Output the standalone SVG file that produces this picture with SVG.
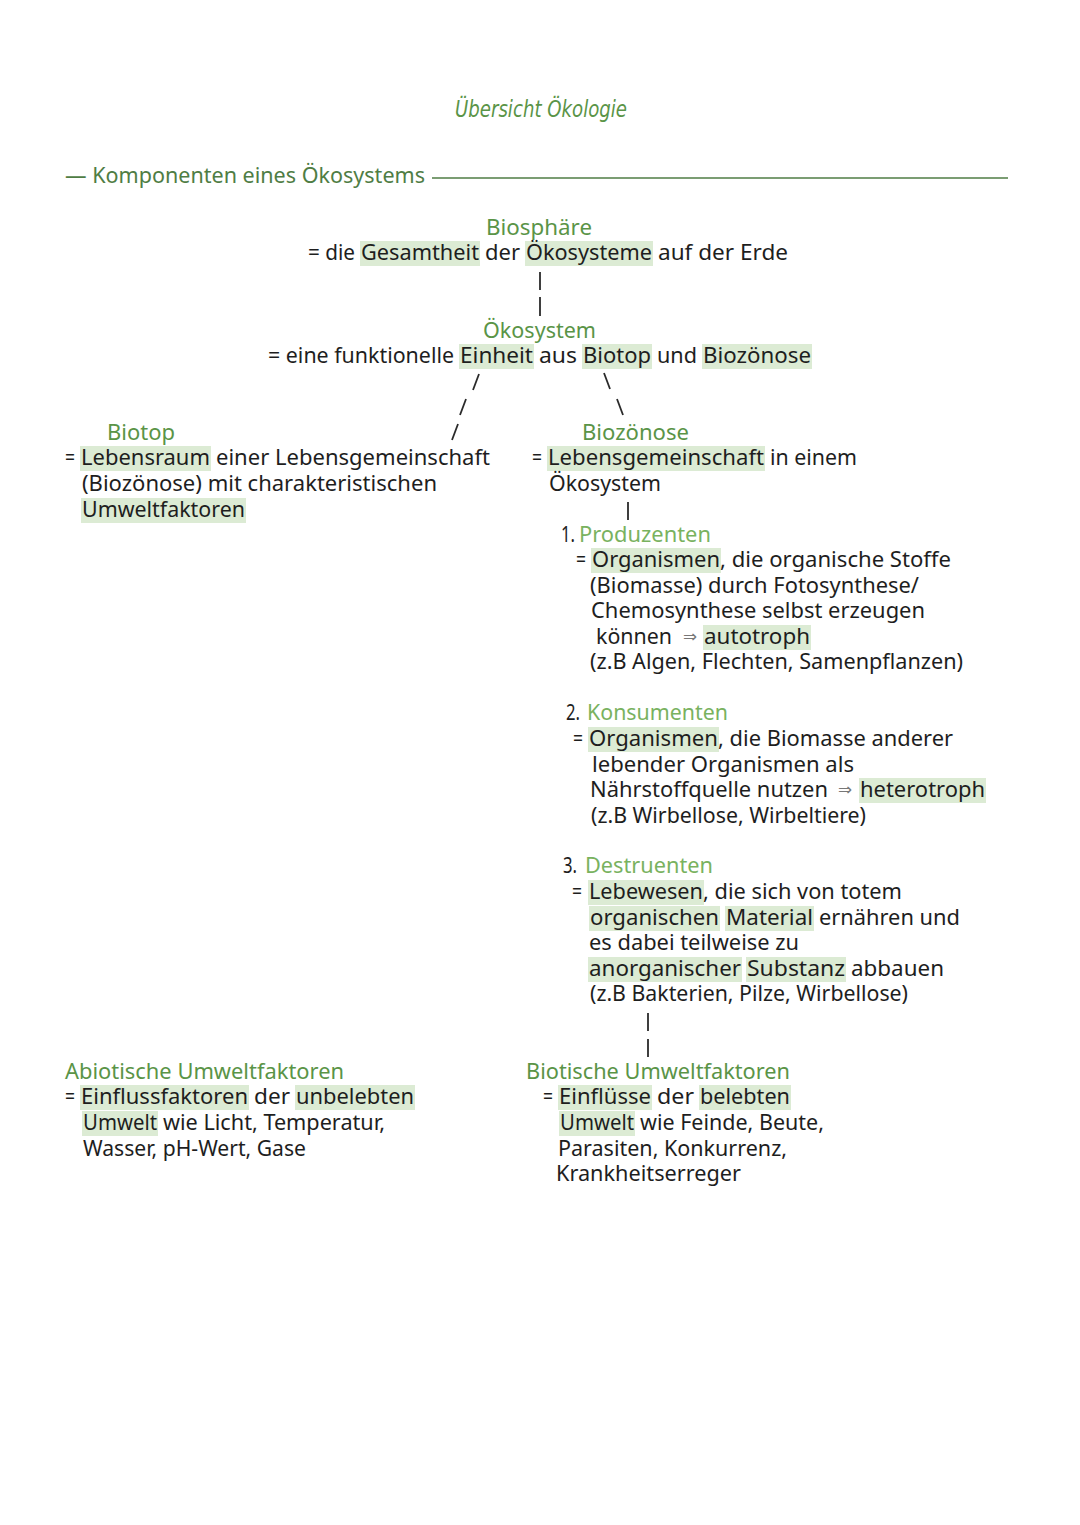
<svg xmlns="http://www.w3.org/2000/svg" width="1080" height="1525" viewBox="0 0 1080 1525">
<style>
text{font-family:"Noto Sans","DejaVu Sans",sans-serif;font-size:21px;fill:#1e1e1e}
.g{fill:#5a9447}
.lg{fill:#79b25f}
.h{fill:#4f7d44}
.ar{fill:#777;font-size:16px}
.ttl{font-family:"DejaVu Sans",sans-serif;font-style:italic;font-size:23px;fill:#5a9447}
.hl{fill:#dcebd4}
.c{stroke:#2a2a2a;stroke-width:1.8;fill:none}
.rule{stroke:#4f7d44;stroke-width:1.6}
</style>
<rect width="1080" height="1525" fill="#ffffff"/>
<g id="title"><text class="ttl" x="455" y="117" textLength="172" lengthAdjust="spacingAndGlyphs">Übersicht Ökologie</text></g>
<g id="header">
<text class="h" x="65" y="183" textLength="360" lengthAdjust="spacingAndGlyphs">— Komponenten eines Ökosystems</text>
<line class="rule" x1="432" y1="178" x2="1008" y2="178"/>
</g>
<g id="connectors">
<line class="c" x1="540" y1="272" x2="540" y2="290"/>
<line class="c" x1="540" y1="297" x2="540" y2="316"/>
<line class="c" x1="479" y1="374" x2="473" y2="390"/>
<line class="c" x1="466" y1="399" x2="460" y2="415"/>
<line class="c" x1="458" y1="424" x2="452" y2="440"/>
<line class="c" x1="604" y1="373" x2="610" y2="389"/>
<line class="c" x1="617" y1="399" x2="623" y2="415"/>
<line class="c" x1="628" y1="502" x2="628" y2="520"/>
<line class="c" x1="648" y1="1013" x2="648" y2="1031"/>
<line class="c" x1="648" y1="1039" x2="648" y2="1057"/>
</g>
<g id="biosphaere">
<rect class="hl" x="360" y="241" width="120" height="25"/>
<rect class="hl" x="525" y="241" width="128" height="25"/>
<text class="g" x="486" y="235" textLength="106" lengthAdjust="spacingAndGlyphs">Biosphäre</text>
<text x="308" y="260" textLength="47" lengthAdjust="spacingAndGlyphs">= die</text>
<text x="361" y="260" textLength="118" lengthAdjust="spacingAndGlyphs">Gesamtheit</text>
<text x="485" y="260" textLength="35" lengthAdjust="spacingAndGlyphs">der</text>
<text x="526" y="260" textLength="126" lengthAdjust="spacingAndGlyphs">Ökosysteme</text>
<text x="658" y="260" textLength="130" lengthAdjust="spacingAndGlyphs">auf der Erde</text>
</g>
<g id="oekosystem">
<rect class="hl" x="459" y="344" width="75" height="25"/>
<rect class="hl" x="582" y="344" width="70" height="25"/>
<rect class="hl" x="702" y="344" width="110" height="25"/>
<text class="g" x="483" y="338" textLength="113" lengthAdjust="spacingAndGlyphs">Ökosystem</text>
<text x="268" y="363" textLength="186" lengthAdjust="spacingAndGlyphs">= eine funktionelle</text>
<text x="460" y="363" textLength="73" lengthAdjust="spacingAndGlyphs">Einheit</text>
<text x="539" y="363" textLength="38" lengthAdjust="spacingAndGlyphs">aus</text>
<text x="583" y="363" textLength="68" lengthAdjust="spacingAndGlyphs">Biotop</text>
<text x="657" y="363" textLength="40" lengthAdjust="spacingAndGlyphs">und</text>
<text x="703" y="363" textLength="108" lengthAdjust="spacingAndGlyphs">Biozönose</text>
</g>
<g id="biotop">
<rect class="hl" x="80" y="446" width="131" height="25"/>
<rect class="hl" x="81" y="498" width="165" height="25"/>
<text class="g" x="107" y="440" textLength="68" lengthAdjust="spacingAndGlyphs">Biotop</text>
<text x="65" y="465" textLength="10" lengthAdjust="spacingAndGlyphs">=</text>
<text x="81" y="465" textLength="129" lengthAdjust="spacingAndGlyphs">Lebensraum</text>
<text x="216" y="465" textLength="274" lengthAdjust="spacingAndGlyphs">einer Lebensgemeinschaft</text>
<text x="82" y="491" textLength="355" lengthAdjust="spacingAndGlyphs">(Biozönose) mit charakteristischen</text>
<text x="82" y="517" textLength="163" lengthAdjust="spacingAndGlyphs">Umweltfaktoren</text>
</g>
<g id="biozoenose">
<rect class="hl" x="547" y="446" width="218" height="25"/>
<text class="g" x="582" y="440" textLength="107" lengthAdjust="spacingAndGlyphs">Biozönose</text>
<text x="532" y="465" textLength="10" lengthAdjust="spacingAndGlyphs">=</text>
<text x="548" y="465" textLength="216" lengthAdjust="spacingAndGlyphs">Lebensgemeinschaft</text>
<text x="770" y="465" textLength="87" lengthAdjust="spacingAndGlyphs">in einem</text>
<text x="549" y="491" textLength="112" lengthAdjust="spacingAndGlyphs">Ökosystem</text>
</g>
<g id="produzenten">
<rect class="hl" x="591" y="548" width="130" height="25"/>
<rect class="hl" x="703" y="625" width="108" height="25"/>
<text x="561" y="542" textLength="14" lengthAdjust="spacingAndGlyphs">1.</text>
<text class="lg" x="579" y="542" textLength="132" lengthAdjust="spacingAndGlyphs">Produzenten</text>
<text x="576" y="567" textLength="10" lengthAdjust="spacingAndGlyphs">=</text>
<text x="592" y="567" textLength="128" lengthAdjust="spacingAndGlyphs">Organismen</text>
<text x="720" y="567" textLength="231" lengthAdjust="spacingAndGlyphs">, die organische Stoffe</text>
<text x="590" y="593" textLength="329" lengthAdjust="spacingAndGlyphs">(Biomasse) durch Fotosynthese/</text>
<text x="591" y="618" textLength="334" lengthAdjust="spacingAndGlyphs">Chemosynthese selbst erzeugen</text>
<text x="596" y="644" textLength="76" lengthAdjust="spacingAndGlyphs">können</text>
<text class="ar" x="683" y="642" textLength="14" lengthAdjust="spacingAndGlyphs">⇒</text>
<text x="704" y="644" textLength="106" lengthAdjust="spacingAndGlyphs">autotroph</text>
<text x="590" y="669" textLength="373" lengthAdjust="spacingAndGlyphs">(z.B Algen, Flechten, Samenpflanzen)</text>
</g>
<g id="konsumenten">
<rect class="hl" x="588" y="727" width="131" height="25"/>
<rect class="hl" x="859" y="778" width="127" height="25"/>
<text x="566" y="720" textLength="14" lengthAdjust="spacingAndGlyphs">2.</text>
<text class="lg" x="587" y="720" textLength="141" lengthAdjust="spacingAndGlyphs">Konsumenten</text>
<text x="573" y="746" textLength="10" lengthAdjust="spacingAndGlyphs">=</text>
<text x="589" y="746" textLength="129" lengthAdjust="spacingAndGlyphs">Organismen</text>
<text x="718" y="746" textLength="235" lengthAdjust="spacingAndGlyphs">, die Biomasse anderer</text>
<text x="592" y="772" textLength="262" lengthAdjust="spacingAndGlyphs">lebender Organismen als</text>
<text x="590" y="797" textLength="238" lengthAdjust="spacingAndGlyphs">Nährstoffquelle nutzen</text>
<text class="ar" x="838" y="795" textLength="14" lengthAdjust="spacingAndGlyphs">⇒</text>
<text x="860" y="797" textLength="125" lengthAdjust="spacingAndGlyphs">heterotroph</text>
<text x="591" y="823" textLength="275" lengthAdjust="spacingAndGlyphs">(z.B Wirbellose, Wirbeltiere)</text>
</g>
<g id="destruenten">
<rect class="hl" x="588" y="880" width="116" height="25"/>
<rect class="hl" x="589" y="906" width="131" height="25"/>
<rect class="hl" x="725" y="906" width="89" height="25"/>
<rect class="hl" x="588" y="957" width="154" height="25"/>
<rect class="hl" x="746" y="957" width="100" height="25"/>
<text x="563" y="873" textLength="14" lengthAdjust="spacingAndGlyphs">3.</text>
<text class="lg" x="585" y="873" textLength="128" lengthAdjust="spacingAndGlyphs">Destruenten</text>
<text x="572" y="899" textLength="10" lengthAdjust="spacingAndGlyphs">=</text>
<text x="589" y="899" textLength="114" lengthAdjust="spacingAndGlyphs">Lebewesen</text>
<text x="703" y="899" textLength="199" lengthAdjust="spacingAndGlyphs">, die sich von totem</text>
<text x="590" y="925" textLength="129" lengthAdjust="spacingAndGlyphs">organischen</text>
<text x="726" y="925" textLength="87" lengthAdjust="spacingAndGlyphs">Material</text>
<text x="819" y="925" textLength="141" lengthAdjust="spacingAndGlyphs">ernähren und</text>
<text x="589" y="950" textLength="210" lengthAdjust="spacingAndGlyphs">es dabei teilweise zu</text>
<text x="589" y="976" textLength="152" lengthAdjust="spacingAndGlyphs">anorganischer</text>
<text x="747" y="976" textLength="98" lengthAdjust="spacingAndGlyphs">Substanz</text>
<text x="851" y="976" textLength="93" lengthAdjust="spacingAndGlyphs">abbauen</text>
<text x="590" y="1001" textLength="318" lengthAdjust="spacingAndGlyphs">(z.B Bakterien, Pilze, Wirbellose)</text>
</g>
<g id="biotische">
<rect class="hl" x="558" y="1085" width="94" height="25"/>
<rect class="hl" x="699" y="1085" width="92" height="25"/>
<rect class="hl" x="559" y="1111" width="76" height="25"/>
<text class="g" x="526" y="1079" textLength="264" lengthAdjust="spacingAndGlyphs">Biotische Umweltfaktoren</text>
<text x="543" y="1104" textLength="10" lengthAdjust="spacingAndGlyphs">=</text>
<text x="559" y="1104" textLength="92" lengthAdjust="spacingAndGlyphs">Einflüsse</text>
<text x="657" y="1104" textLength="37" lengthAdjust="spacingAndGlyphs">der</text>
<text x="700" y="1104" textLength="90" lengthAdjust="spacingAndGlyphs">belebten</text>
<text x="560" y="1130" textLength="74" lengthAdjust="spacingAndGlyphs">Umwelt</text>
<text x="640" y="1130" textLength="184" lengthAdjust="spacingAndGlyphs">wie Feinde, Beute,</text>
<text x="558" y="1156" textLength="229" lengthAdjust="spacingAndGlyphs">Parasiten, Konkurrenz,</text>
<text x="556" y="1181" textLength="185" lengthAdjust="spacingAndGlyphs">Krankheitserreger</text>
</g>
<g id="abiotische">
<rect class="hl" x="80" y="1085" width="169" height="25"/>
<rect class="hl" x="295" y="1085" width="120" height="25"/>
<rect class="hl" x="82" y="1111" width="76" height="25"/>
<text class="g" x="65" y="1079" textLength="279" lengthAdjust="spacingAndGlyphs">Abiotische Umweltfaktoren</text>
<text x="65" y="1104" textLength="10" lengthAdjust="spacingAndGlyphs">=</text>
<text x="81" y="1104" textLength="167" lengthAdjust="spacingAndGlyphs">Einflussfaktoren</text>
<text x="254" y="1104" textLength="36" lengthAdjust="spacingAndGlyphs">der</text>
<text x="296" y="1104" textLength="118" lengthAdjust="spacingAndGlyphs">unbelebten</text>
<text x="83" y="1130" textLength="74" lengthAdjust="spacingAndGlyphs">Umwelt</text>
<text x="163" y="1130" textLength="222" lengthAdjust="spacingAndGlyphs">wie Licht, Temperatur,</text>
<text x="83" y="1156" textLength="223" lengthAdjust="spacingAndGlyphs">Wasser, pH-Wert, Gase</text>
</g>
</svg>
